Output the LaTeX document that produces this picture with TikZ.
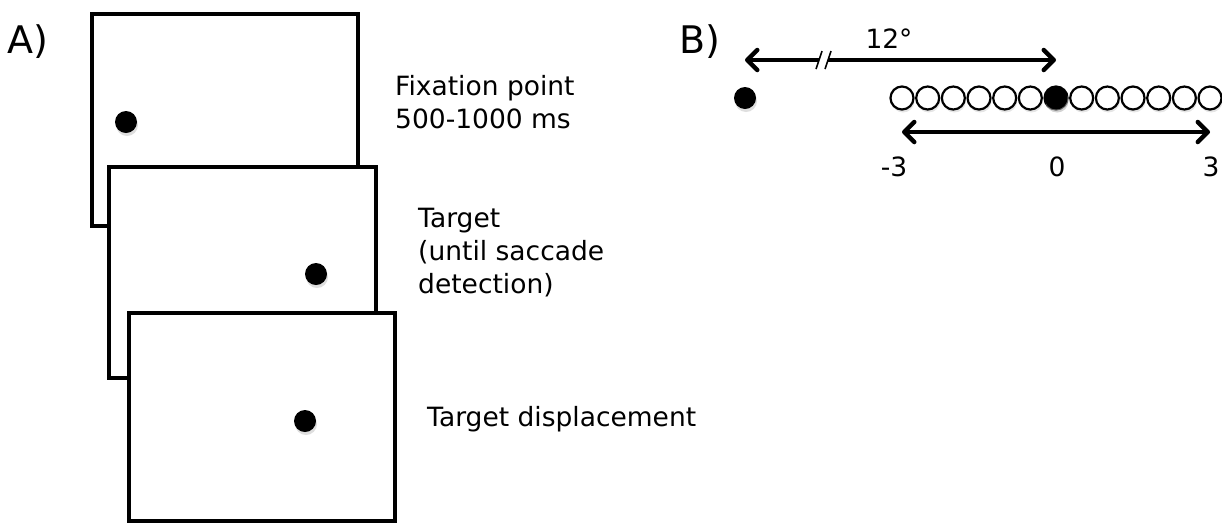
\documentclass[tikz,border=0pt]{standalone}
\usepackage{fontspec}
\setmainfont{DejaVu Sans}
\usetikzlibrary{arrows.meta,shadows}

\tikzset{
  screen/.style={line width=3.5pt, fill=white, drop shadow={shadow xshift=1.5pt, shadow yshift=-2pt, fill=black!15}},
  dot/.style={circle, fill=black, inner sep=0pt, minimum size=22pt, drop shadow={shadow xshift=1pt, shadow yshift=-3pt, fill=black!25}},
  ring/.style={circle, draw=black, fill=white, line width=2.2pt, inner sep=0pt, minimum size=23pt, drop shadow={shadow xshift=1pt, shadow yshift=-3pt, fill=black!20}},
  lbl/.style={anchor=base west, inner sep=0pt, align=left, font=\fontsize{26.5}{33}\selectfont},
  panel/.style={anchor=base west, inner sep=0pt, font=\fontsize{38}{44}\selectfont},
  num/.style={inner sep=0pt, font=\fontsize{26.5}{33}\selectfont},
  dbl/.style={line width=4.5pt, {Straight Barb[length=10pt, width=20pt, line cap=round, line join=round]}-{Straight Barb[length=10pt, width=20pt, line cap=round, line join=round]}}
}

\begin{document}
\begin{tikzpicture}[x=1pt, y=-1pt]
  \useasboundingbox (0,0) rectangle (1222,523);

  % A) the three screens
  \node[panel] (pa) at (7,53) {A)};
  \draw[screen] (92,14) rectangle (358,226);
  \node[dot] (fixA) at (126,122) {};
  \draw[screen] (109,167) rectangle (376,378);
  \node[dot] (targA) at (316,274) {};
  \draw[screen] (129,313) rectangle (395,521);
  \node[dot] (dispA) at (305,421) {};

  \node[lbl] (tfix) at (395,128) {Fixation point\\500-1000 ms};
  \node[lbl] (ttarg) at (418,293) {Target\\(until saccade\\detection)};
  \node[lbl] (tdisp) at (427,426) {Target displacement};

  % B) target positions
  \node[panel] (pb) at (679,53) {B)};
  \node[dot] (fixB) at (745,98) {};
  \foreach \i in {0,...,12}
    \node[ring] (p\i) at ({902+25.67*\i},98) {};
  \node[dot, minimum size=23pt] at (p6) {};

  \draw[dbl] ([yshift=38pt]fixB.center) -- ([yshift=38pt]fixB.center -| p6.center);
  % break marks
  \fill[white] (816,69) -- (822,51) -- (831,51) -- (825,69) -- cycle;
  \draw[line width=1.6pt] (816,69) -- (822,51);
  \draw[line width=1.6pt] (825,69) -- (831,51);
  \node[num, anchor=base] (deg) at (889,48) {12°};

  \draw[dbl] ([yshift=-34pt]p0.center) -- ([yshift=-34pt]p12.center);
  \node[num] (nm3) at (894,167) {-3};
  \node[num] (n0) at (1057,167) {0};
  \node[num] (n3) at (1211,167) {3};
\end{tikzpicture}
\end{document}
